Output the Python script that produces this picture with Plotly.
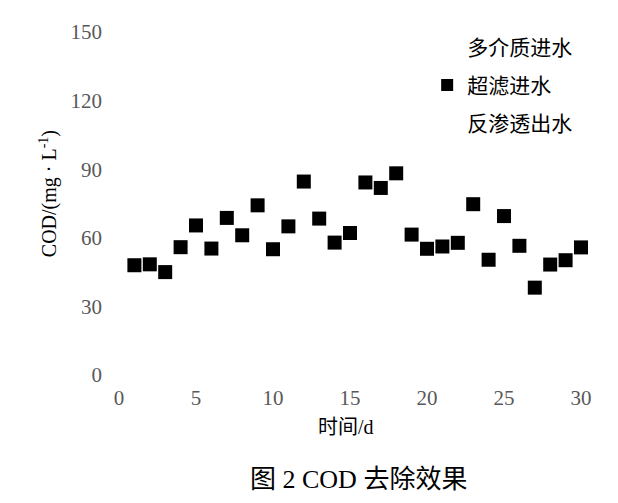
import plotly.graph_objects as go

days = list(range(1, 31))
uf_cod = [48.0, 48.4, 45.0, 55.9, 65.4, 55.3, 68.7, 61.1, 74.2, 55.0,
          65.0, 84.6, 68.4, 57.9, 62.1, 84.2, 81.8, 88.2, 61.4, 55.2,
          56.2, 57.8, 74.7, 50.4, 69.5, 56.5, 38.2, 48.3, 50.2, 55.8]
mm_cod = [None]
ro_cod = [None]

x_ticks = [0, 5, 10, 15, 20, 25, 30]
y_ticks = [0, 30, 60, 90, 120, 150]

FONT = "Liberation Serif, Times New Roman, Noto Sans CJK SC, serif"

fig = go.Figure()
fig.add_trace(go.Scatter(x=[None] * len(mm_cod), y=mm_cod, mode="markers", name="多介质进水",
                         legendgroup="a",
                         marker=dict(symbol="square", size=14, color="white")))
fig.add_trace(go.Scatter(x=days, y=uf_cod, mode="markers", name="超滤进水",
                         legendgroup="b",
                         marker=dict(symbol="square", size=14, color="black"),
                         cliponaxis=False))
fig.add_trace(go.Scatter(x=[None] * len(ro_cod), y=ro_cod, mode="markers", name="反渗透出水",
                         legendgroup="c",
                         marker=dict(symbol="square", size=14, color="white")))

fig.update_layout(
    width=610, height=495,
    margin=dict(l=111, r=37, t=19, b=128),
    plot_bgcolor="white", paper_bgcolor="white",
    font=dict(family=FONT, size=20, color="black"),
    showlegend=True,
    legend=dict(x=0.667, y=1.016, xanchor="left", yanchor="top",
                font=dict(size=21, color="black"), bgcolor="rgba(0,0,0,0)",
                tracegroupgap=8, itemsizing="constant"),
    xaxis=dict(range=[0, 30], tickvals=x_ticks, showgrid=False, zeroline=False,
               showline=False, ticks="", ticklabelstandoff=8,
               tickfont=dict(family=FONT, size=21, color="#595959")),
    yaxis=dict(range=[0, 150], tickvals=y_ticks, showgrid=False, zeroline=False,
               showline=False, ticks="", ticklabelstandoff=16,
               tickfont=dict(family=FONT, size=21, color="#595959")),
    annotations=[
        dict(text="COD/(mg · L<sup>-1</sup>)", xref="paper", yref="paper",
             x=-0.1537, y=0.53, xanchor="center", yanchor="middle", textangle=-90,
             showarrow=False, font=dict(family=FONT, size=20, color="black")),
        dict(text="时间/d", xref="paper", yref="paper",
             x=0.491, y=-0.151, xanchor="center", yanchor="middle",
             showarrow=False, font=dict(family=FONT, size=20, color="black")),
        dict(text="图 2 COD 去除效果", xref="paper", yref="paper",
             x=0.518, y=-0.305, xanchor="center", yanchor="middle",
             showarrow=False, font=dict(family=FONT, size=26, color="black")),
    ],
)

fig.write_html("out.html")
